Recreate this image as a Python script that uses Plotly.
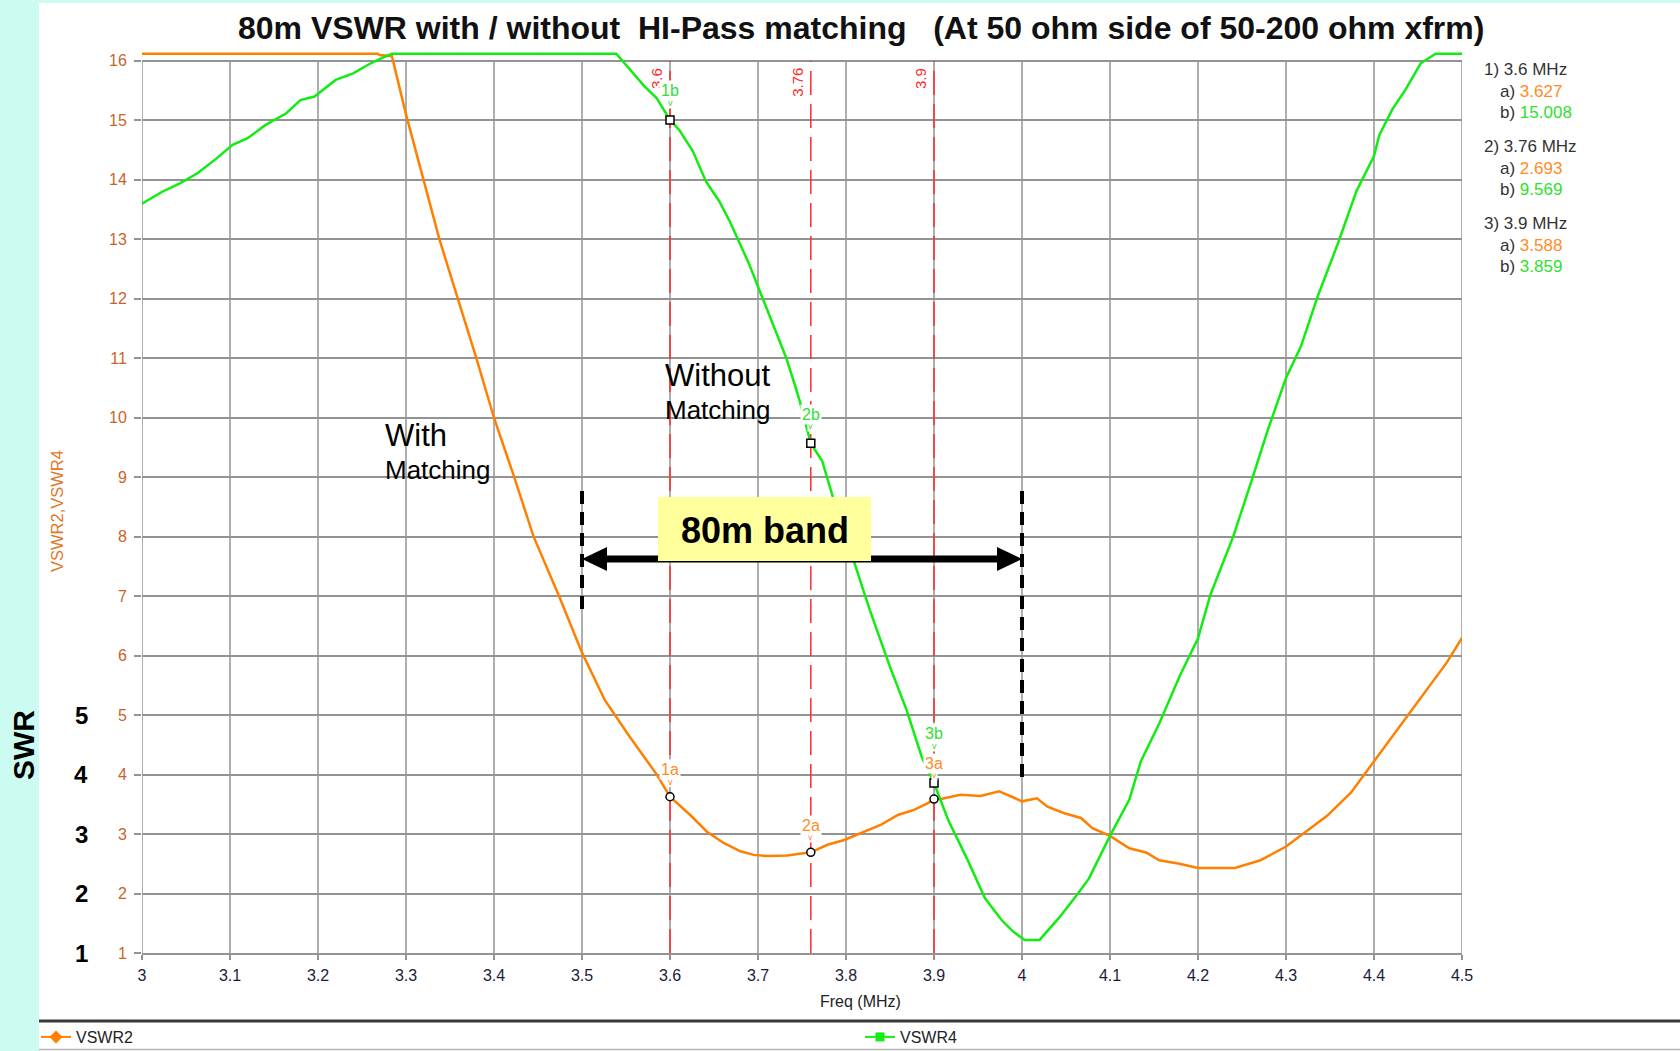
import plotly.graph_objects as go

# ---------------------------------------------------------------------------
# Data
# ---------------------------------------------------------------------------
# VSWR2: SWR with the hi-pass matching network (analyser reading clipped at top)
freq_vswr2 = [3.000, 3.268, 3.270, 3.284, 3.300, 3.316, 3.338, 3.361, 3.380, 3.400,
              3.423, 3.445, 3.474, 3.500, 3.526, 3.554, 3.585, 3.600, 3.623, 3.642,
              3.661, 3.680, 3.695, 3.710, 3.733, 3.760, 3.779, 3.798, 3.821, 3.840,
              3.859, 3.878, 3.893, 3.900, 3.908, 3.930, 3.953, 3.974, 3.991, 4.000,
              4.017, 4.029, 4.048, 4.067, 4.080, 4.100, 4.122, 4.141, 4.156, 4.179,
              4.200, 4.242, 4.271, 4.300, 4.321, 4.347, 4.374, 4.400, 4.437, 4.483,
              4.500]
vswr2 = [16.12, 16.12, 16.10, 16.08, 15.10, 14.20, 13.00, 11.90, 11.00, 10.00,
         9.00, 8.00, 7.00, 6.05, 5.25, 4.64, 4.00, 3.627, 3.32, 3.04,
         2.85, 2.71, 2.65, 2.63, 2.64, 2.693, 2.82, 2.90, 3.04, 3.16,
         3.32, 3.41, 3.52, 3.588, 3.59, 3.66, 3.64, 3.72, 3.61, 3.55,
         3.60, 3.46, 3.35, 3.27, 3.10, 2.97, 2.76, 2.69, 2.56, 2.50,
         2.43, 2.43, 2.56, 2.79, 3.02, 3.31, 3.70, 4.22, 4.96, 5.89,
         6.30]

# VSWR4: SWR without matching
freq_vswr4 = [3.000, 3.023, 3.043, 3.063, 3.083, 3.103, 3.120, 3.140, 3.164, 3.180,
              3.196, 3.220, 3.240, 3.260, 3.276, 3.284, 3.539, 3.551, 3.570, 3.585,
              3.600, 3.611, 3.626, 3.641, 3.656, 3.668, 3.680, 3.690, 3.702, 3.717,
              3.732, 3.743, 3.748, 3.760, 3.773, 3.785, 3.808, 3.827, 3.850, 3.869,
              3.886, 3.900, 3.916, 3.938, 3.958, 3.977, 3.990, 4.003, 4.020, 4.042,
              4.061, 4.076, 4.100, 4.122, 4.135, 4.156, 4.179, 4.200, 4.214, 4.240,
              4.260, 4.279, 4.300, 4.317, 4.336, 4.359, 4.380, 4.400, 4.406, 4.421,
              4.436, 4.453, 4.470, 4.500]
vswr4 = [13.60, 13.80, 13.94, 14.11, 14.34, 14.59, 14.70, 14.92, 15.12, 15.34,
         15.40, 15.68, 15.79, 15.96, 16.07, 16.12, 16.12, 15.92, 15.59, 15.37,
         15.008, 14.83, 14.48, 13.97, 13.64, 13.30, 12.90, 12.58, 12.13, 11.57,
         11.01, 10.50, 10.25, 9.569, 9.27, 8.67, 7.61, 6.77, 5.81, 5.08,
         4.30, 3.859, 3.24, 2.57, 1.92, 1.55, 1.36, 1.22, 1.22, 1.59,
         1.95, 2.25, 2.97, 3.58, 4.22, 4.86, 5.65, 6.29, 7.02, 8.00,
         8.90, 9.78, 10.67, 11.20, 12.04, 12.93, 13.81, 14.40, 14.75, 15.19,
         15.52, 15.96, 16.12, 16.12]

# Marker readouts (MHz, VSWR2, VSWR4)
marker_freq = [3.6, 3.76, 3.9]
marker_vswr2 = [3.627, 2.693, 3.588]
marker_vswr4 = [15.008, 9.569, 3.859]

x_tick_vals = [3.0, 3.1, 3.2, 3.3, 3.4, 3.5, 3.6, 3.7, 3.8, 3.9, 4.0, 4.1, 4.2, 4.3, 4.4, 4.5]
x_tick_text = ["3", "3.1", "3.2", "3.3", "3.4", "3.5", "3.6", "3.7", "3.8", "3.9",
               "4", "4.1", "4.2", "4.3", "4.4", "4.5"]
y_tick_vals = [1, 2, 3, 4, 5, 6, 7, 8, 9, 10, 11, 12, 13, 14, 15, 16]
swr_labels = [1, 2, 3, 4, 5]
band_80m = [3.5, 4.0]

# ---------------------------------------------------------------------------
# Geometry helpers (figure pixels -> paper / data coordinates)
# ---------------------------------------------------------------------------
FIG_W, FIG_H = 1680, 1051
M_L, M_R, M_T, M_B = 142, 218, 49, 98
PLOT_W = FIG_W - M_L - M_R
PLOT_H = FIG_H - M_T - M_B
X_RANGE = [3.0, 4.5]
Y_RANGE = [1.0, 16.2]


def paper_x(px):
    return (px - M_L) / PLOT_W


def paper_y(py):
    return (FIG_H - M_B - py) / PLOT_H


def data_x(px):
    return X_RANGE[0] + paper_x(px) * (X_RANGE[1] - X_RANGE[0])


def data_y(py):
    return Y_RANGE[0] + paper_y(py) * (Y_RANGE[1] - Y_RANGE[0])


FONT = "Arial, 'Liberation Sans', sans-serif"
ORANGE = "#ff8000"
GREEN = "#12ec12"
ORANGE_TXT = "#ff8c26"
GREEN_TXT = "#30e030"
GRID = "#939393"
RED = "#ff2a2a"
CYAN = "#ccfcf1"

fig = go.Figure()

fig.add_trace(go.Scatter(x=freq_vswr2, y=vswr2, mode="lines",
                         line=dict(color=ORANGE, width=2.5),
                         showlegend=False, hoverinfo="skip"))
fig.add_trace(go.Scatter(x=freq_vswr4, y=vswr4, mode="lines",
                         line=dict(color=GREEN, width=2.5),
                         showlegend=False, hoverinfo="skip"))
fig.add_trace(go.Scatter(x=marker_freq, y=marker_vswr2, mode="markers",
                         marker=dict(symbol="circle", size=8, color="white",
                                     line=dict(color="black", width=1.5)),
                         cliponaxis=False, showlegend=False))
fig.add_trace(go.Scatter(x=marker_freq, y=marker_vswr4, mode="markers",
                         marker=dict(symbol="square", size=8, color="white",
                                     line=dict(color="black", width=1.5)),
                         cliponaxis=False, showlegend=False))

# legend entries (one legend box each, spread along the bottom strip)
fig.add_trace(go.Scatter(x=[None], y=[None], name="VSWR2", mode="lines+markers",
                         line=dict(color=ORANGE, width=2),
                         marker=dict(symbol="diamond", size=10, color=ORANGE),
                         legend="legend"))
fig.add_trace(go.Scatter(x=[None], y=[None], name="VSWR4", mode="lines+markers",
                         line=dict(color=GREEN, width=2),
                         marker=dict(symbol="square", size=9, color=GREEN),
                         legend="legend2"))

shapes = []
# cyan frame strips
shapes.append(dict(type="rect", xref="paper", yref="paper",
                   x0=paper_x(0), x1=paper_x(39), y0=paper_y(FIG_H), y1=paper_y(0),
                   fillcolor=CYAN, line=dict(width=0), layer="below"))
shapes.append(dict(type="rect", xref="paper", yref="paper",
                   x0=paper_x(0), x1=paper_x(FIG_W), y0=paper_y(3), y1=paper_y(0),
                   fillcolor=CYAN, line=dict(width=0), layer="below"))
# vertical grid lines, stopping at the top scale value
for xv in x_tick_vals:
    shapes.append(dict(type="line", xref="x", yref="y", x0=xv, x1=xv,
                       y0=y_tick_vals[0], y1=y_tick_vals[-1],
                       line=dict(color=GRID, width=1.5), layer="below"))
# marker frequency lines
for f in marker_freq:
    shapes.append(dict(type="line", xref="x", yref="y", x0=f, x1=f,
                       y0=y_tick_vals[0], y1=y_tick_vals[-1],
                       line=dict(color=RED, width=1.5, dash="24px,9px"), layer="between"))
# 80m band edges
band_top = data_y(491)
for xv, bottom_px in zip(band_80m, [617, 782]):
    shapes.append(dict(type="line", xref="x", yref="y", x0=xv, x1=xv,
                       y0=band_top, y1=data_y(bottom_px),
                       line=dict(color="black", width=4, dash="13px,8px"), layer="above"))
# double arrow across the band
arrow_y = data_y(559)
head_len = 25 * (X_RANGE[1] - X_RANGE[0]) / PLOT_W
head_half = 12 * (Y_RANGE[1] - Y_RANGE[0]) / PLOT_H
shapes.append(dict(type="line", xref="x", yref="y",
                   x0=band_80m[0] + head_len * 0.5, x1=band_80m[1] - head_len * 0.5,
                   y0=arrow_y, y1=arrow_y,
                   line=dict(color="black", width=7), layer="above"))
for tip, direction in [(band_80m[0], 1), (band_80m[1], -1)]:
    base = tip + direction * head_len
    shapes.append(dict(type="path", xref="x", yref="y",
                       path=f"M {tip} {arrow_y} L {base} {arrow_y + head_half} "
                            f"L {base} {arrow_y - head_half} Z",
                       fillcolor="black", line=dict(width=0), layer="above"))
# label box
shapes.append(dict(type="rect", xref="x", yref="y",
                   x0=data_x(658), x1=data_x(871), y0=data_y(561), y1=data_y(497),
                   fillcolor="#ffff9c", line=dict(width=0), layer="above"))
# legend separator lines
shapes.append(dict(type="line", xref="paper", yref="paper",
                   x0=paper_x(39), x1=paper_x(FIG_W), y0=paper_y(1021), y1=paper_y(1021),
                   line=dict(color="#383838", width=3)))
shapes.append(dict(type="line", xref="paper", yref="paper",
                   x0=paper_x(39), x1=paper_x(FIG_W), y0=paper_y(1049.5), y1=paper_y(1049.5),
                   line=dict(color="#b4b4b4", width=1.5)))

ann = []


def text(t, x, y, size, color="black", xanchor="center", yanchor="middle",
         xref="paper", yref="paper", **kw):
    d = dict(text=t, x=x, y=y, xref=xref, yref=yref, xanchor=xanchor, yanchor=yanchor,
             showarrow=False, font=dict(family=FONT, size=size, color=color))
    d.update(kw)
    ann.append(d)


# title and axis titles
text("<b>80m VSWR with / without\u00a0 HI-Pass matching\u00a0\u00a0 "
     "(At 50 ohm side of 50-200 ohm xfrm)</b>",
     paper_x(861), paper_y(28), 32, "#111111")
text("Freq (MHz)", paper_x(860), paper_y(1002), 16, "#222222")
text("VSWR2,VSWR4", paper_x(57), paper_y(511), 16.5, "#e0782a", textangle=-90)
text("<b>SWR</b>", paper_x(23), paper_y(745), 30, "black", textangle=-90)
for v in swr_labels:
    text(f"<b>{v}</b>", paper_x(81), v, 24, "black", yref="y")

# marker readout panel
for i, (f, a, b) in enumerate(zip(marker_freq, marker_vswr2, marker_vswr4)):
    y0 = 70 + i * 76.7
    text(f"{i + 1}) {f:g} MHz", paper_x(1482), paper_y(y0), 17, "#333333", xanchor="left")
    text(f"a) <span style='color:{ORANGE_TXT}'>{a:.3f}</span>", paper_x(1498),
         paper_y(y0 + 21.8), 17, "#333333", xanchor="left")
    text(f"b) <span style='color:{GREEN_TXT}'>{b:.3f}</span>", paper_x(1498),
         paper_y(y0 + 42.8), 17, "#333333", xanchor="left")

# frequency labels on the marker lines
for f in marker_freq:
    text(f"{f:g}", f, paper_y(66), 15, RED, xref="x", xanchor="right", yanchor="top",
         textangle=-90, xshift=-3)

# marker tags (pixel offsets above each marker)
a_shift = [27, 27, 36]
b_shift = [29, 29, 49]
for i, (f, a, b) in enumerate(zip(marker_freq, marker_vswr2, marker_vswr4)):
    for val, shift, tag, col in [(a, a_shift[i], "a", ORANGE_TXT), (b, b_shift[i], "b", GREEN_TXT)]:
        text("v", f, val, 9, col, xref="x", yref="y", yshift=shift - 12,
             bgcolor="white", borderpad=0)
        text(f"{i + 1}{tag}", f, val, 16, col, xref="x", yref="y", yshift=shift,
             bgcolor="white", borderpad=1)

# curve captions
text("Without", data_x(663), data_y(375), 31, "black", xanchor="left", xref="x", yref="y")
text("Matching", data_x(663), data_y(410), 26, "black", xanchor="left", xref="x", yref="y")
text("With", data_x(383), data_y(435.5), 31, "black", xanchor="left", xref="x", yref="y")
text("Matching", data_x(383), data_y(470), 26, "black", xanchor="left", xref="x", yref="y")

# band label
text("<b>80m band</b>", data_x(765), data_y(530), 36, "black", xref="x", yref="y")

legend_style = dict(orientation="h", y=paper_y(1037), xanchor="left", yanchor="middle",
                    itemwidth=30, bgcolor="rgba(0,0,0,0)",
                    font=dict(family=FONT, size=16, color="#222222"))

fig.update_layout(
    width=FIG_W, height=FIG_H,
    margin=dict(l=M_L, r=M_R, t=M_T, b=M_B, pad=0, autoexpand=False),
    paper_bgcolor="white", plot_bgcolor="white",
    font=dict(family=FONT, size=16, color="#222222"),
    shapes=shapes, annotations=ann,
    showlegend=True,
    legend=dict(x=paper_x(36), **legend_style),
    legend2=dict(x=paper_x(860), **legend_style),
)

fig.update_xaxes(range=X_RANGE, tickmode="array", tickvals=x_tick_vals, ticktext=x_tick_text,
                 showgrid=False, zeroline=False, showline=True, linecolor=GRID, linewidth=1.5,
                 ticks="outside", ticklen=5, tickwidth=1.5, tickcolor=GRID,
                 tickfont=dict(family=FONT, size=16, color="#1c1c3a"), ticklabelstandoff=2)
fig.update_yaxes(range=Y_RANGE, tickmode="array", tickvals=y_tick_vals,
                 showgrid=True, gridcolor=GRID, gridwidth=1.5, zeroline=False, showline=False,
                 ticks="outside", ticklen=7, tickwidth=1.5, tickcolor=GRID,
                 tickfont=dict(family=FONT, size=16, color="#c8642a"), ticklabelstandoff=4)

fig.write_html("out.html")
